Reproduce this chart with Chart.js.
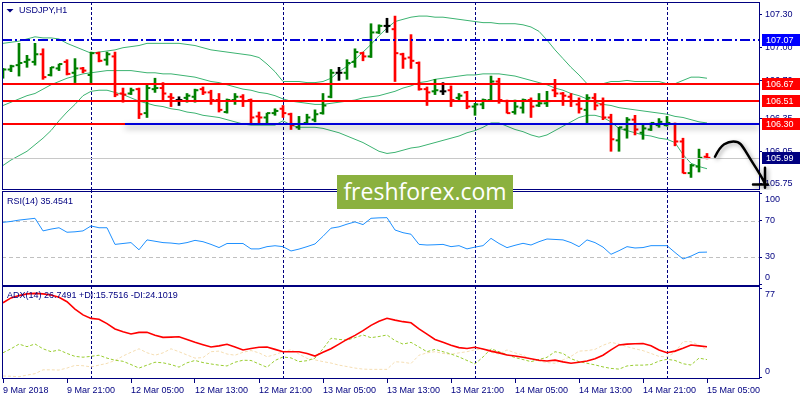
<!DOCTYPE html>
<html><head><meta charset="utf-8">
<script src="https://cdn.jsdelivr.net/npm/chart.js@4.4.1/dist/chart.umd.min.js"></script>
<style>
html,body{margin:0;padding:0;background:#fff;}
body{width:800px;height:400px;overflow:hidden;position:relative;}
.pane{position:absolute;left:0;width:800px;}
#wm{position:absolute;left:337px;top:175px;width:176px;height:34px;background:#8bb13f;color:#fff;
font-family:'Open Sans',sans-serif;font-size:23px;line-height:33px;text-align:center;z-index:5;}
</style></head>
<body>
<div class="pane" style="top:0;height:190px"><canvas id="cMain"></canvas></div>
<div class="pane" style="top:190px;height:96px"><canvas id="cRsi"></canvas></div>
<div class="pane" style="top:286px;height:114px"><canvas id="cAdx"></canvas></div>
<div id="wm">freshforex.com</div>
<script>
// ---------------- DATA ----------------
const symbolTitle = 'USDJPY,H1';
const timeTickIdx = [0,8,16,24,32,40,48,56,64,72,80,88];
const timeLabels = ['9 Mar 2018','9 Mar 21:00','12 Mar 05:00','12 Mar 13:00','12 Mar 21:00','13 Mar 05:00','13 Mar 13:00','13 Mar 21:00','14 Mar 05:00','14 Mar 13:00','14 Mar 21:00','15 Mar 05:00'];
const daySeparators = [11,35,59,83];
const priceTicks = [107.30,107.00,106.70,106.35,106.05,105.75];

const open = [106.73,106.80,106.84,106.87,106.87,106.94,106.75,106.81,106.87,106.77,
106.81,106.75,106.95,106.89,106.92,106.58,106.58,106.62,106.40,106.62,
106.63,106.55,106.52,106.54,106.55,106.62,106.59,106.52,106.41,106.52,
106.55,106.52,106.37,106.36,106.40,106.44,106.39,106.27,106.31,106.34,
106.40,106.55,106.77,106.77,106.87,106.95,106.92,107.14,107.20,107.17,
106.94,106.91,106.86,106.62,106.60,106.60,106.61,106.54,106.59,106.46,
106.48,106.52,106.69,106.51,106.41,106.45,106.52,106.47,106.49,106.61,
106.58,106.55,106.48,106.43,106.54,106.48,106.36,106.15,106.25,106.34,
106.22,106.25,106.29,106.29,106.30,106.14,105.85,105.91,106.00];
const high = [106.81,106.84,107.04,106.93,107.04,106.99,106.82,106.85,106.89,106.90,
106.82,106.96,106.96,106.96,106.96,106.63,106.63,106.63,106.66,106.72,
106.68,106.58,106.55,106.58,106.62,106.64,106.61,106.58,106.53,106.58,
106.57,106.53,106.41,106.40,106.44,106.47,106.40,106.37,106.39,106.43,
106.58,106.80,106.82,106.89,106.99,106.96,107.22,107.21,107.27,107.29,
106.95,107.12,106.87,106.64,106.71,106.68,106.65,106.58,106.60,106.49,
106.53,106.74,106.72,106.52,106.52,106.53,106.54,106.58,106.60,106.71,
106.59,106.58,106.54,106.57,106.58,106.54,106.39,106.27,106.36,106.38,
106.29,106.31,106.35,106.37,106.31,106.17,105.93,106.07,106.03];
const low = [106.72,106.78,106.74,106.82,106.84,106.71,106.74,106.79,106.75,106.68,
106.77,106.68,106.87,106.84,106.55,106.50,106.57,106.35,106.36,106.59,
106.52,106.46,106.47,106.50,106.50,106.57,106.48,106.41,106.40,106.48,
106.46,106.31,106.31,106.31,106.38,106.36,106.25,106.25,106.30,106.32,
106.39,106.54,106.70,106.71,106.82,106.88,106.91,107.13,107.14,106.69,
106.81,106.81,106.61,106.47,106.57,106.57,106.46,106.51,106.44,106.38,
106.44,106.51,106.49,106.40,106.39,106.40,106.36,106.46,106.46,106.55,
106.47,106.46,106.40,106.31,106.43,106.34,106.05,106.05,106.17,106.20,
106.16,106.24,106.27,106.28,106.10,105.85,105.81,105.86,105.98];
const close = [106.80,106.83,106.86,106.89,106.94,106.73,106.82,106.85,106.76,106.81,
106.79,106.95,106.88,106.94,106.57,106.57,106.61,106.39,106.63,106.63,
106.58,106.54,106.52,106.56,106.61,106.59,106.52,106.43,106.52,106.55,
106.51,106.36,106.36,106.40,106.42,106.40,106.29,106.30,106.36,106.39,
106.47,106.77,106.77,106.86,106.96,106.92,107.14,107.20,107.20,106.95,
106.90,106.88,106.62,106.59,106.61,106.60,106.52,106.56,106.46,106.48,
106.52,106.69,106.52,106.40,106.46,106.52,106.46,106.49,106.51,106.58,
106.56,106.51,106.44,106.54,106.47,106.36,106.16,106.27,106.34,106.25,
106.26,106.31,106.32,106.31,106.14,105.85,105.92,105.99,105.99];

const bbUpper = [107.04,107.05,107.06,107.08,107.10,107.09,107.09,107.08,107.04,107.01,
106.98,106.95,106.96,106.97,106.98,107.00,107.01,107.02,107.04,107.04,
107.04,107.04,107.04,107.03,107.02,107.00,106.98,106.97,106.96,106.95,
106.94,106.93,106.91,106.85,106.78,106.69,106.69,106.69,106.68,106.68,
106.69,106.72,106.78,106.83,106.89,106.96,107.03,107.11,107.18,107.24,
107.26,107.28,107.29,107.29,107.28,107.28,107.27,107.26,107.25,107.24,
107.23,107.23,107.22,107.22,107.22,107.21,107.19,107.15,107.07,106.98,
106.90,106.82,106.75,106.67,106.67,106.67,106.69,106.69,106.70,106.69,
106.69,106.69,106.69,106.67,106.67,106.70,106.73,106.73,106.72];
const bbMiddle = [106.47,106.50,106.53,106.56,106.58,106.62,106.66,106.69,106.72,106.74,
106.76,106.77,106.78,106.79,106.79,106.79,106.79,106.78,106.77,106.77,
106.76,106.76,106.75,106.74,106.73,106.71,106.69,106.68,106.66,106.64,
106.62,106.61,106.59,106.58,106.56,106.53,106.51,106.50,106.49,106.48,
106.48,106.49,106.50,106.51,106.52,106.54,106.55,106.56,106.58,106.60,
106.63,106.65,106.68,106.69,106.71,106.72,106.73,106.74,106.75,106.75,
106.76,106.76,106.76,106.75,106.74,106.72,106.70,106.68,106.66,106.63,
106.61,106.58,106.56,106.53,106.50,106.48,106.47,106.45,106.44,106.43,
106.42,106.41,106.40,106.39,106.37,106.36,106.34,106.32,106.31];
const bbLower = [105.92,105.97,106.01,106.05,106.11,106.17,106.24,106.33,106.41,106.48,
106.56,106.60,106.61,106.61,106.59,106.57,106.54,106.51,106.49,106.47,
106.46,106.44,106.43,106.41,106.40,106.38,106.37,106.36,106.34,106.32,
106.30,106.29,106.29,106.29,106.29,106.33,106.29,106.27,106.27,106.27,
106.26,106.24,106.22,106.19,106.16,106.13,106.09,106.05,106.03,106.04,
106.06,106.08,106.09,106.11,106.13,106.15,106.17,106.19,106.22,106.24,
106.27,106.31,106.31,106.28,106.25,106.23,106.20,106.18,106.20,106.24,
106.28,106.32,106.36,106.38,106.38,106.36,106.32,106.26,106.24,106.22,
106.20,106.19,106.17,106.16,106.13,106.02,105.94,105.91,105.89];

const rsi = [68.5,69.5,71,72,73,59,61,62.5,57.5,58,
59,64.5,62.5,62.5,44,45,46,38,49,47.5,
46,45.5,44.5,46,48.5,47,44,40.5,45,45,
45,39,39,41.5,42.5,41.5,36.7,38.8,41.5,44.5,
53,62,63.5,66.5,69,66,73,73.5,73.7,60,
57,55.3,44,43.3,43.6,44,41.5,42.6,39,41,
42.6,50.7,45,40.4,43,45.2,43.3,47,50,49.5,
49,46,41.5,49,46,41,33,37,41.5,40,
40.5,42.6,42.6,42.6,35,27.8,31,35.2,35.45];
const rsiTicks = [100,70,30,0];
const rsiLevels = [70,30];
const rsiTitle = 'RSI(14) 35.4541';

const adx = [64.4,68.5,70.5,72,72.4,72,71,69,65.3,59,
54,51,50.3,46.5,42,39.5,37.6,39,39.1,36.5,
34.8,35,35.3,33,30.5,28.5,26.5,27.5,28.8,26.5,
24,25.2,26.3,26.5,24.5,22.5,22.5,22.5,21,18.8,
22,25,29,33,36.5,40.5,45,48.5,51.1,49.5,
48.2,47.2,42,37.6,33,30.5,28,26,25.3,26.3,
24.8,23,21.5,19.7,18.8,17.7,16.5,15.2,14.5,15.3,
13.8,12.6,13.5,14.5,16.5,19.5,24,28.3,29,29.3,
29.5,27.5,24,21.6,23,25.5,28.2,27.5,26.75];
const plusDI = [21.6,25,29,26.8,29.1,25,22.5,24,21,18.5,
17.8,18.5,19.5,17,15.2,14.3,11.5,8.5,11,13.5,
13,11.5,9.3,13,15,13.2,12,11,10.3,13.5,
15.2,15,12,9.2,15,18,17.2,14,14.8,17,
25,34,33,32.5,34.5,36.8,34.5,35.5,36.8,32,
29,30.5,26.5,22.5,24.5,22.5,20.5,18,15,12,
18,25,22.5,20,17.5,15.8,14,15.8,17.7,22.5,
21,16.5,14,12.6,11.2,9.5,8.2,7.6,10.3,11,
11,11.5,14.5,16,15,12.2,11.1,17,15.75];
const minusDI = [1.7,1.5,1.1,2.5,3.7,7,7,6.8,8.5,10.8,
10.5,9.5,11,12.5,15,18.8,22,25,21.6,19.5,
21.5,25,22.5,19.7,17,17.5,22.5,23,20.5,19.5,
22,23.5,21.5,18.2,20,22.5,24.2,20.5,16.8,15.5,
14,12.8,11,9.8,8.5,7.6,7.4,7.4,7.4,13.9,
13.5,12.4,19.5,21.5,22.5,21,20.3,21.5,22.5,24.2,
24.5,22,20.5,24,21.5,19.5,16,14.5,13.2,12.6,
15.5,18.5,23,23.4,24.5,28,30.5,29,26.8,25,
23.4,21,18.5,18,22,31.1,31.1,28,24.1];
const adxTicks = [77,0];
const adxTitle = 'ADX(14) 26.7491 +DI:15.7516 -DI:24.1019';

// horizontal objects on the price chart
const dashDotLevel = 107.07;
const redLevels = [106.67,106.51,106.30];
const trendLevel = 106.30, trendFromBar = 15.25;
const bidPrice = 105.99;
const levelLabels = [107.07,106.67,106.51,106.30,105.99];
// hand-drawn forecast arrow (bar index, price)
const arrowX = [89.0,89.6,90.7,91.9,92.5,93.4,94.2,95.0,95.3];
const arrowY = [106.00,106.09,106.14,106.14,106.09,105.98,105.89,105.79,105.745];
const arrowHeadH = [[93.75,105.745],[95.6,105.745]];
const arrowHeadV = [[95.25,105.90],[95.25,105.715]];

// ---------------- STYLE ----------------
const NAVY = '#000080';
const FONT_FAMILY = "'Liberation Sans', Arial, sans-serif";
const FONT = {family: FONT_FAMILY, size: 9};
const FONT_STR = "9px " + FONT_FAMILY;
const X_MIN = -0.125, X_MAX = 94.5;
const GREEN = '#008000', RED = '#ff0000';
const barColors = close.map((c,i) => c > open[i] ? GREEN : (c < open[i] ? RED : '#000000'));
const labelBg = {'107.07':'#0000ff','106.67':'#ff0000','106.51':'#ff0000','106.3':'#ff0000','105.99':'#000080'};

Chart.defaults.font.family = FONT_FAMILY;
Chart.defaults.font.size = 9;

function xs(arr){ return arr.map((v,i)=>({x:i,y:v})); }
function tickData(vals, from, to){
  const d=[]; vals.forEach((v,i)=>{ d.push({x:i+from,y:v},{x:i+to,y:v},{x:i+to,y:null}); }); return d;
}
function hideX(){ return {type:'linear',min:X_MIN,max:X_MAX,display:false,offset:false,grid:{offset:false}}; }
function yAxis(min,max,extra){
  return Object.assign({type:'linear',position:'right',min,max,
    afterFit:s=>{s.width=41;s.paddingTop=0;s.paddingBottom=0;},
    grid:{drawOnChartArea:false,drawTicks:true,tickLength:3,color:NAVY},
    border:{display:false}}, extra);
}
function vSeparators(chart, top, bottom){
  const {ctx, scales:{x}} = chart;
  ctx.save(); ctx.strokeStyle=NAVY; ctx.lineWidth=1; ctx.setLineDash([3,2]);
  daySeparators.forEach(b=>{ const px=Math.round(x.getPixelForValue(b))+0.5;
    ctx.beginPath(); ctx.moveTo(px,top); ctx.lineTo(px,bottom); ctx.stroke(); });
  ctx.restore();
}
function frame(chart, top, bottom){
  const {ctx, chartArea:a} = chart;
  ctx.save(); ctx.strokeStyle=NAVY; ctx.lineWidth=1;
  ctx.strokeRect(a.left+0.5, top, a.right-a.left, bottom-top);
  ctx.restore();
}
function panelTitle(chart, text, y){
  const {ctx} = chart;
  ctx.save(); ctx.font=FONT_STR; ctx.fillStyle=NAVY; ctx.textBaseline='middle'; ctx.textAlign='left';
  ctx.fillText(text, 7, y); ctx.restore();
}
function sideLabels(chart, values){
  const {ctx, chartArea:a, scales:{y}} = chart;
  ctx.save(); ctx.font=FONT_STR; ctx.fillStyle=NAVY; ctx.textBaseline='middle'; ctx.textAlign='left';
  values.forEach(v=>{ let py=y.getPixelForValue(v); py=Math.min(Math.max(py,a.top+8),a.bottom-7);
    ctx.fillText(String(v), a.right+6, py); });
  ctx.restore();
}
function hLine(ctx,x0,x1,y,color,w,dash){
  ctx.save(); ctx.strokeStyle=color; ctx.lineWidth=w; ctx.setLineDash(dash||[]);
  const py = w%2 ? Math.round(y)+0.5 : Math.round(y);
  ctx.beginPath(); ctx.moveTo(x0,py); ctx.lineTo(x1,py); ctx.stroke(); ctx.restore();
}

// ---------------- MAIN PRICE CHART ----------------
const mainPlugin = {
  id:'mainOverlay',
  beforeDatasetsDraw(chart){ const a=chart.chartArea; vSeparators(chart,a.top,a.bottom); },
  afterDatasetsDraw(chart){
    const {ctx, chartArea:a, scales:{x,y}} = chart;
    ctx.save(); ctx.beginPath(); ctx.rect(a.left,a.top,a.right-a.left,a.bottom-a.top); ctx.clip();
    hLine(ctx,a.left,a.right,y.getPixelForValue(bidPrice),'#c8c8c8',1);
    hLine(ctx,a.left,a.right,y.getPixelForValue(dashDotLevel),'#0000d8',2,[10,3,2,3]);
    redLevels.forEach(v=>hLine(ctx,a.left,a.right,y.getPixelForValue(v),RED,2));
    // blue trend line with shadow
    ctx.save(); ctx.shadowColor='rgba(0,0,0,0.45)'; ctx.shadowBlur=6; ctx.shadowOffsetY=3;
    hLine(ctx,x.getPixelForValue(trendFromBar),a.right,y.getPixelForValue(trendLevel),'#0000d8',2);
    ctx.restore();
    ctx.restore();
  },
  afterDraw(chart){
    const {ctx, chartArea:a, scales:{x,y}} = chart;
    frame(chart, a.top+0.5, a.bottom+0.5);
    // title
    ctx.save(); ctx.fillStyle=NAVY;
    ctx.beginPath(); ctx.moveTo(6.5,9); ctx.lineTo(13.5,9); ctx.lineTo(10,12.5); ctx.closePath(); ctx.fill();
    ctx.restore();
    ctx.save(); ctx.font=FONT_STR; ctx.fillStyle=NAVY; ctx.textBaseline='middle';
    ctx.fillText(symbolTitle, 19, 10.5); ctx.restore();
    // price labels
    ctx.save(); ctx.font=FONT_STR; ctx.textBaseline='middle'; ctx.textAlign='left';
    levelLabels.forEach(v=>{
      const py=Math.round(y.getPixelForValue(v));
      ctx.fillStyle=labelBg[String(v)]; ctx.fillRect(a.right+3, py-6, 800-a.right-3, 12);
      ctx.fillStyle='#ffffff'; ctx.fillText(v.toFixed(2), a.right+7, py+0.5);
    });
    ctx.restore();
    // arrow
    const P = arrowX.map((v,i)=>[x.getPixelForValue(v), y.getPixelForValue(arrowY[i])]);
    ctx.save(); ctx.strokeStyle='#000'; ctx.lineWidth=2.5; ctx.lineJoin='round'; ctx.lineCap='round';
    ctx.shadowColor='rgba(0,0,0,0.35)'; ctx.shadowBlur=4; ctx.shadowOffsetX=2; ctx.shadowOffsetY=2;
    ctx.beginPath(); ctx.moveTo(P[0][0],P[0][1]);
    for(let i=1;i<P.length-1;i++){ const mx=(P[i][0]+P[i+1][0])/2, my=(P[i][1]+P[i+1][1])/2; ctx.quadraticCurveTo(P[i][0],P[i][1],mx,my); }
    ctx.lineTo(P[P.length-1][0],P[P.length-1][1]);
    [arrowHeadH, arrowHeadV].forEach(seg=>{ ctx.moveTo(x.getPixelForValue(seg[0][0]), y.getPixelForValue(seg[0][1]));
      ctx.lineTo(x.getPixelForValue(seg[1][0]), y.getPixelForValue(seg[1][1])); });
    ctx.stroke(); ctx.restore();
  }
};

new Chart(document.getElementById('cMain'), {
  type:'line',
  data:{datasets:[
    {type:'line',data:tickData(open,-0.42,0),borderWidth:2,pointRadius:0,spanGaps:false,order:0,
      segment:{borderColor:c=>barColors[Math.floor(c.p0DataIndex/3)]},borderColor:'#000'},
    {type:'line',data:tickData(close,0,0.42),borderWidth:2,pointRadius:0,spanGaps:false,order:0,
      segment:{borderColor:c=>barColors[Math.floor(c.p0DataIndex/3)]},borderColor:'#000'},
    {type:'bar',data:low.map((l,i)=>({x:i,y:[l,high[i]]})),backgroundColor:barColors,barThickness:2,borderWidth:0,order:1},
    {type:'line',data:xs(bbUpper),borderColor:'#3cb371',borderWidth:1,pointRadius:0,order:2},
    {type:'line',data:xs(bbMiddle),borderColor:'#3cb371',borderWidth:1,pointRadius:0,order:2},
    {type:'line',data:xs(bbLower),borderColor:'#3cb371',borderWidth:1,pointRadius:0,order:2}
  ]},
  options:{responsive:true,maintainAspectRatio:false,animation:false,events:[],
    layout:{padding:{left:2,top:2,right:0,bottom:1}},
    plugins:{legend:{display:false},tooltip:{enabled:false}},
    scales:{
      x:hideX(),
      y:yAxis(105.7041,107.4192,{
        afterBuildTicks:s=>{s.ticks=priceTicks.map(v=>({value:v}));},
        ticks:{callback:v=>Number(v).toFixed(2),font:FONT,color:NAVY,padding:3}})
    }},
  plugins:[mainPlugin]
});

// ---------------- RSI ----------------
new Chart(document.getElementById('cRsi'), {
  type:'line',
  data:{datasets:[{data:xs(rsi),borderColor:'#1e90ff',borderWidth:1,pointRadius:0}]},
  options:{responsive:true,maintainAspectRatio:false,animation:false,events:[],
    layout:{padding:{left:2,top:2,right:0,bottom:1}},
    plugins:{legend:{display:false},tooltip:{enabled:false}},
    scales:{x:hideX(),
      y:yAxis(-1.11,102.22,{afterBuildTicks:s=>{s.ticks=rsiTicks.map(v=>({value:v}));},ticks:{display:false}})}},
  plugins:[{id:'rsiOverlay',
    beforeDatasetsDraw(chart){ const {ctx,chartArea:a,scales:{y}}=chart;
      vSeparators(chart,0,a.bottom);
      rsiLevels.forEach(v=>hLine(ctx,a.left,a.right,y.getPixelForValue(v),'#c0c0c0',1,[4,3])); },
    afterDraw(chart){ const a=chart.chartArea; frame(chart,a.top-0.5,a.bottom+0.5);
      panelTitle(chart,rsiTitle,11.5); sideLabels(chart,rsiTicks); }}]
});

// ---------------- ADX ----------------
new Chart(document.getElementById('cAdx'), {
  type:'line',
  data:{datasets:[
    {data:xs(adx),borderColor:'#ff0000',borderWidth:1.6,pointRadius:0,order:0},
    {data:xs(plusDI),borderColor:'#9acd32',borderWidth:1,borderDash:[3,2],pointRadius:0,order:1},
    {data:xs(minusDI),borderColor:'#f5deb3',borderWidth:1,borderDash:[3,2],pointRadius:0,order:1}
  ]},
  options:{responsive:true,maintainAspectRatio:false,animation:false,events:[],
    layout:{padding:{left:2,top:1,right:0,bottom:0}},
    plugins:{legend:{display:false},tooltip:{enabled:false}},
    scales:{
      x:{type:'linear',min:X_MIN,max:X_MAX,position:'bottom',offset:false,
        afterBuildTicks:s=>{s.ticks=timeTickIdx.map(v=>({value:v}));},
        afterFit:s=>{s.height=21;s.paddingLeft=0;s.paddingRight=0;},
        ticks:{callback:v=>timeLabels[timeTickIdx.indexOf(v)],align:'start',maxRotation:0,autoSkip:false,font:FONT,color:NAVY,padding:2},
        grid:{offset:false,drawOnChartArea:false,drawTicks:true,tickLength:4,color:NAVY},
        border:{display:false}},
      y:yAxis(-0.856,77.856,{afterBuildTicks:s=>{s.ticks=adxTicks.map(v=>({value:v}));},ticks:{display:false}})
    }},
  plugins:[{id:'adxOverlay',
    beforeDatasetsDraw(chart){ const a=chart.chartArea; vSeparators(chart,0,a.bottom); },
    afterDraw(chart){ const a=chart.chartArea; frame(chart,a.top-0.5,a.bottom-0.5);
      panelTitle(chart,adxTitle,10); sideLabels(chart,adxTicks); }}]
});
</script>
</body></html>
